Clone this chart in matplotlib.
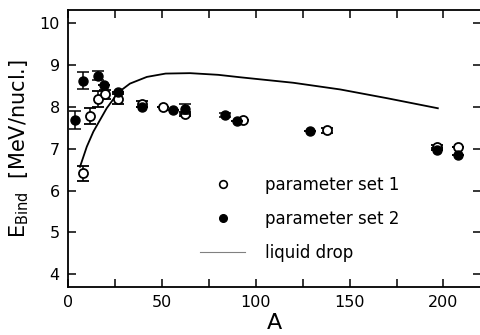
import numpy as np
import matplotlib
matplotlib.use('Agg')
import matplotlib.pyplot as plt
from matplotlib.lines import Line2D

# parameter set 1 (open circles)
a1 = [8.1, 11.7, 15.8, 19.7, 26.8, 39.5, 50.8, 62.3, 93.0, 138.2, 196.4, 207.9]
e1 = [6.41, 7.78, 8.19, 8.30, 8.18, 8.08, 7.99, 7.83, 7.69, 7.44, 7.05, 7.05]
d1 = [0.19, 0.19, 0.20, 0.10, 0.12, 0.07, 0.0, 0.05, 0.0, 0.06, 0.04, 0.0]

# parameter set 2 (filled circles)
a2 = [3.7, 7.8, 15.8, 19.3, 26.8, 39.5, 55.8, 62.3, 83.6, 89.8, 128.9, 196.4, 207.9]
e2 = [7.69, 8.63, 8.75, 8.52, 8.35, 8.01, 7.93, 7.95, 7.81, 7.66, 7.43, 6.96, 6.85]
d2 = [0.22, 0.21, 0.10, 0.0, 0.0, 0.0, 0.0, 0.12, 0.05, 0.0, 0.0, 0.0, 0.0]

# liquid drop curve
a_ld = [6.4, 10, 13.5, 20.6, 26.8, 33, 42, 52, 65, 80, 92, 120, 145, 170, 197]
e_ld = [6.57, 7.05, 7.41, 7.97, 8.35, 8.56, 8.72, 8.80, 8.81, 8.77, 8.71, 8.58, 8.42, 8.21, 7.97]

labels = ['parameter set 1', 'parameter set 2', 'liquid drop']

fig = plt.figure(figsize=(4.81, 3.35), dpi=100)
ax = fig.add_axes([0.1414, 0.1442, 0.8586, 0.8258])

ax.plot(a_ld, e_ld, color='black', lw=1.3)
ax.errorbar(a1, e1, yerr=d1, fmt='o', ms=6.5, mfc='white', mec='black', mew=1.3,
            ecolor='black', elinewidth=1.1, capsize=4, capthick=1.1, zorder=3)
ax.errorbar(a2, e2, yerr=d2, fmt='o', ms=6.5, mfc='black', mec='black',
            ecolor='black', elinewidth=1.1, capsize=4, capthick=1.1, zorder=4)

ax.set_xlim(0, 220)
ax.set_ylim(3.7, 10.32)
ax.set_xticks([0, 50, 100, 150, 200])
ax.set_xticks(np.arange(25, 220, 50), minor=True)
ax.set_yticks([4, 5, 6, 7, 8, 9, 10])
ax.tick_params(which='both', direction='in', top=True, right=True,
               labelsize=11.5, width=1.1)
ax.tick_params(which='major', length=6, pad=6)
ax.tick_params(which='minor', length=6)
for s in ax.spines.values():
    s.set_linewidth(1.3)

ax.set_xlabel('A', fontsize=16, labelpad=2)
ax.set_ylabel(r'E$_{\mathrm{Bind}}$  [MeV/nucl.]', fontsize=15, labelpad=6)

handles = [
    Line2D([], [], ls='none', marker='o', ms=5.5, mfc='white', mec='black', mew=1.2),
    Line2D([], [], ls='none', marker='o', ms=5.5, mfc='black', mec='black'),
    Line2D([], [], color='gray', lw=0.8),
]
ax.legend(handles, labels, loc='upper left', bbox_to_anchor=(0.32, 0.40),
          frameon=False, fontsize=12, handlelength=2.7, handletextpad=1.2,
          labelspacing=0.95, borderpad=0, borderaxespad=0, numpoints=1)

fig.savefig('out.png', dpi=100)
